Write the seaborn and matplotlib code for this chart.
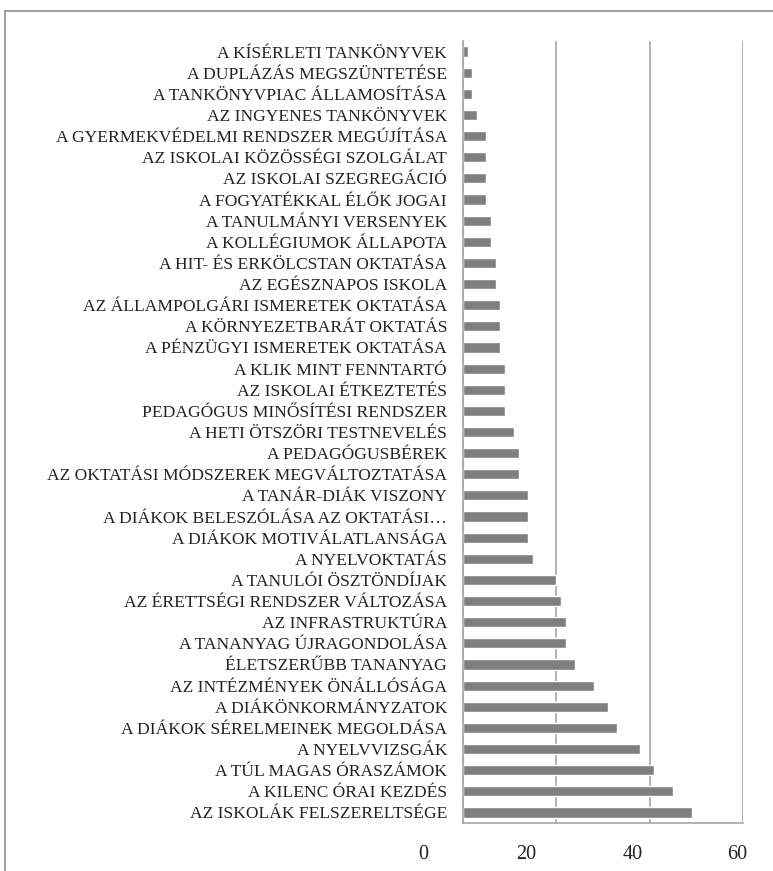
import matplotlib
matplotlib.use("Agg")
import matplotlib.pyplot as plt
import matplotlib.transforms as mtransforms
from matplotlib.patches import Rectangle
import seaborn as sns
import pandas as pd

# Adatok (felülről lefelé)
temak = [
    "A KÍSÉRLETI TANKÖNYVEK",
    "A DUPLÁZÁS MEGSZÜNTETÉSE",
    "A TANKÖNYVPIAC ÁLLAMOSÍTÁSA",
    "AZ INGYENES TANKÖNYVEK",
    "A GYERMEKVÉDELMI RENDSZER MEGÚJÍTÁSA",
    "AZ ISKOLAI KÖZÖSSÉGI SZOLGÁLAT",
    "AZ ISKOLAI SZEGREGÁCIÓ",
    "A FOGYATÉKKAL ÉLŐK JOGAI",
    "A TANULMÁNYI VERSENYEK",
    "A KOLLÉGIUMOK ÁLLAPOTA",
    "A HIT- ÉS ERKÖLCSTAN OKTATÁSA",
    "AZ EGÉSZNAPOS ISKOLA",
    "AZ ÁLLAMPOLGÁRI ISMERETEK OKTATÁSA",
    "A KÖRNYEZETBARÁT OKTATÁS",
    "A PÉNZÜGYI ISMERETEK OKTATÁSA",
    "A KLIK MINT FENNTARTÓ",
    "AZ ISKOLAI ÉTKEZTETÉS",
    "PEDAGÓGUS MINŐSÍTÉSI RENDSZER",
    "A HETI ÖTSZÖRI TESTNEVELÉS",
    "A PEDAGÓGUSBÉREK",
    "AZ OKTATÁSI MÓDSZEREK MEGVÁLTOZTATÁSA",
    "A TANÁR-DIÁK VISZONY",
    "A DIÁKOK BELESZÓLÁSA AZ OKTATÁSI…",
    "A DIÁKOK MOTIVÁLATLANSÁGA",
    "A NYELVOKTATÁS",
    "A TANULÓI ÖSZTÖNDÍJAK",
    "AZ ÉRETTSÉGI RENDSZER VÁLTOZÁSA",
    "AZ INFRASTRUKTÚRA",
    "A TANANYAG ÚJRAGONDOLÁSA",
    "ÉLETSZERŰBB TANANYAG",
    "AZ INTÉZMÉNYEK ÖNÁLLÓSÁGA",
    "A DIÁKÖNKORMÁNYZATOK",
    "A DIÁKOK SÉRELMEINEK MEGOLDÁSA",
    "A NYELVVIZSGÁK",
    "A TÚL MAGAS ÓRASZÁMOK",
    "A KILENC ÓRAI KEZDÉS",
    "AZ ISKOLÁK FELSZERELTSÉGE",
]
ertekek = [1, 2, 2, 3, 5, 5, 5, 5, 6, 6, 7, 7, 8, 8, 8, 9, 9, 9, 11, 12, 12,
           14, 14, 14, 15, 20, 21, 22, 22, 24, 28, 31, 33, 38, 41, 45, 49]

x_tickek = [0, 20, 40, 60]

df = pd.DataFrame({"tema": temak, "ertek": ertekek})

sns.set_style("white")
plt.rcParams["font.family"] = ["Liberation Serif", "DejaVu Serif"]

szurke = "#a6a6a6"

fig = plt.figure(figsize=(7.73, 8.71), dpi=100)
ax = fig.add_axes([463 / 773, 1 - 823 / 871, 280 / 773, 782 / 871])

sns.barplot(data=df, x="ertek", y="tema", orient="h", color="#7f7f7f",
            saturation=1, width=0.48, ax=ax)

ax.set_xlim(0, 60)
ax.set_ylim(len(temak) - 0.5, -0.5)
ax.set_xlabel("")
ax.set_ylabel("")

# racsvonalak
ax.set_xticks(x_tickek)
ax.set_xticklabels([str(t) for t in x_tickek], fontsize=14.5, color="#222222")
ax.xaxis.grid(True, color=szurke, linewidth=1.2)
ax.set_axisbelow(True)

# y tengely: kis tickek a kategoriak hataran
ax.set_yticks(range(len(temak)))
ax.set_yticklabels(temak, fontsize=12.6, color="#222222")
ax.set_yticks([i - 0.5 for i in range(len(temak) + 1)], minor=True)
ax.tick_params(axis="y", which="major", length=0, pad=11.5)
ax.tick_params(axis="y", which="minor", length=5, color=szurke, width=1)
ax.tick_params(axis="x", which="major", length=5, color=szurke, width=1, pad=11)

for s in ["top", "right"]:
    ax.spines[s].set_visible(False)
for s in ["left", "bottom"]:
    ax.spines[s].set_color(szurke)
    ax.spines[s].set_linewidth(1.2)

# az x feliratok balra csuszva, mint az eredetin (px)
eltolas = [-40, -30, -17, -6]
for lab, dx in zip(ax.get_xticklabels(), eltolas):
    lab.set_transform(lab.get_transform() +
                      mtransforms.ScaledTranslation(dx / 100, 0, fig.dpi_scale_trans))

# kulso keret
fig.patches.append(Rectangle((5 / 773, -0.1), 1.2, 1.1 - 11 / 871,
                             transform=fig.transFigure, fill=False,
                             edgecolor="#8c8c8c", linewidth=1.2))

fig.savefig("out.png", dpi=100, facecolor="white")
